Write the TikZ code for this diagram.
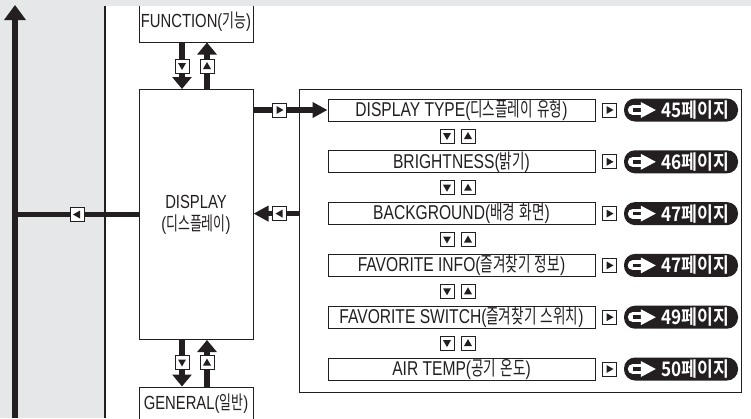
\documentclass[tikz,border=0pt]{standalone}
\usepackage{fontspec}
\setmainfont{Liberation Sans}[FakeStretch=0.78]
\newfontfamily\kr{Noto Sans CJK KR}[Scale=1.0,FakeStretch=0.68]
\newfontfamily\krb{Noto Sans CJK KR Bold}[FakeStretch=0.86]
\usetikzlibrary{arrows.meta}
\definecolor{bg}{HTML}{E6E7E8}
\definecolor{ln}{HTML}{231F20}
\newcommand\K[1]{{\kr #1}}
\begin{document}
\begin{tikzpicture}[x=1pt,y=-1pt,
  box/.style={draw=ln, line width=1pt, fill=white, inner sep=0pt, text=ln, font=\fontsize{20}{22}\selectfont},
  item/.style={box, minimum width=267pt, minimum height=22pt},
  side/.style={box, minimum width=114pt, font=\fontsize{19}{22}\selectfont},
  mk/.style={draw=ln, fill=white, line width=1pt, minimum size=14pt, inner sep=0pt},
  mkR/.style={mk, path picture={\fill[ln] ([xshift=-3pt,yshift=4pt]path picture bounding box.center) -- ++(7pt,-4pt) -- ++(-7pt,-4pt) -- cycle;}},
  mkL/.style={mk, path picture={\fill[ln] ([xshift=3pt,yshift=4pt]path picture bounding box.center) -- ++(-7pt,-4pt) -- ++(7pt,-4pt) -- cycle;}},
  mkD/.style={mk, path picture={\fill[ln] ([xshift=-4pt,yshift=3pt]path picture bounding box.center) -- ++(8pt,0pt) -- ++(-4pt,-7pt) -- cycle;}},
  mkU/.style={mk, path picture={\fill[ln] ([xshift=-4pt,yshift=-3pt]path picture bounding box.center) -- ++(8pt,0pt) -- ++(-4pt,7pt) -- cycle;}},
  conn/.style={draw=ln, line width=5.5pt},
  vhead/.style={-{Triangle[length=12pt,width=19pt]}},
  hhead/.style={-{Triangle[length=15pt,width=15pt]}},
  pill/.style={fill=ln, rounded corners=11pt, minimum width=114pt, minimum height=23pt, inner sep=0pt},
  ptext/.style={text=white, inner sep=0pt, font=\krb\fontsize{20}{20}\selectfont},
]
\clip (0,0) rectangle (751,418);
% left gray area
\fill[bg] (0,0) rectangle (105,418);
\draw[ln, line width=1.2pt] (105,6) -- (105,418);

% main column
\node[side, minimum height=40pt] (fn) at (196,22) {FUNCTION(\K{기능})};
\node[side, minimum height=250pt, align=center] (disp) at (196,214.5) {DISPLAY\\(\K{디스플레이})};
\node[side, minimum height=34pt] (gen) at (196,404) {GENERAL(\K{일반})};

% list frame and items
\node[draw=ln, line width=1.2pt, minimum width=442pt, minimum height=303pt, inner sep=0pt, anchor=north west] (lst) at (299,89) {};
\node[item] (it1) at (461.5,110)   {DISPLAY TYPE(\K{디스플레이} \K{유형})};
\node[item] (it2) at (461.5,161.8) {BRIGHTNESS(\K{밝기})};
\node[item] (it3) at (461.5,213.6) {BACKGROUND(\K{배경} \K{화면})};
\node[item] (it4) at (461.5,265.4) {FAVORITE INFO(\K{즐겨찾기} \K{정보})};
\node[item] (it5) at (461.5,317.2) {FAVORITE SWITCH(\K{즐겨찾기} \K{스위치})};
\node[item] (it6) at (461.5,369)   {AIR TEMP(\K{공기} \K{온도})};

% top band
\fill[bg] (0,0) rectangle (751,6);

% connectors
\coordinate (xd) at (182,0);
\coordinate (xu) at (207,0);
\coordinate (lbot) at (15,418);
\coordinate (ltop) at (15,5);
\draw[conn, -{Triangle[length=15pt,width=21pt]}] (lbot) -- (ltop);
\draw[conn] (disp.west) -- (disp.west -| lbot);
\draw[conn, vhead] (fn.south -| xd) -- (disp.north -| xd);
\draw[conn, vhead] (disp.north -| xu) -- (fn.south -| xu);
\draw[conn, vhead] (disp.south -| xd) -- (gen.north -| xd);
\draw[conn, vhead] (gen.north -| xu) -- (disp.south -| xu);
\draw[conn, hhead] (disp.east |- it1) -- (it1.west);
\draw[conn, hhead] (lst.west |- it3) -- (disp.east |- it3);

% markers on connectors
\node[mkL] (mL) at (77,214.5) {};
\node[mkD] (mfd) at (182,66) {};
\node[mkU] (mfu) at (207,66) {};
\node[mkD] (mgd) at (182,362.5) {};
\node[mkU] (mgu) at (207,362.5) {};
\node[mkR] (mR) at (279.5,110) {};
\node[mkL] (mB) at (279.5,213.6) {};

% markers between items
\foreach \y [count=\n] in {136,187.7,239.5,291.3,343.1} {
  \node[mkD] (d\n) at (447,\y) {};
  \node[mkU] (u\n) at (468,\y) {};
}

% page references
\foreach \n/\y/\pg in {1/110/45, 2/161.8/46, 3/213.6/47, 4/265.4/47, 5/317.2/49, 6/369/50} {
  \node[mkR] (r\n) at (609.5,\y) {};
  \node[pill] (p\n) at (681,\y) {};
  \draw[white, line width=10pt, line cap=round] ([xshift=9pt]p\n.west) -- ([xshift=19pt]p\n.west);
  \draw[ln, line width=3.5pt] ([xshift=9pt]p\n.west) -- ([xshift=19pt]p\n.west);
  \fill[white] ([xshift=17pt,yshift=8pt]p\n.west) -- ([xshift=32pt]p\n.west) -- ([xshift=17pt,yshift=-8pt]p\n.west) -- cycle;
  \node[ptext] (t\n) at (695,\y) {\pg 페이지};
}
\end{tikzpicture}
\end{document}
